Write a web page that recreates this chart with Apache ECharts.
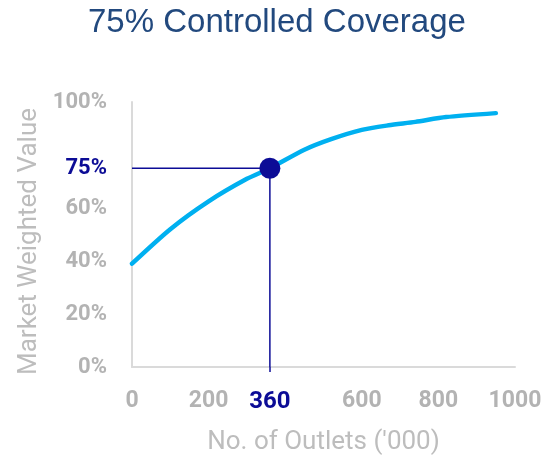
<!DOCTYPE html>
<html>
<head>
<meta charset="utf-8">
<script src="https://cdn.jsdelivr.net/npm/echarts@6/dist/echarts.min.js"></script>
<style>
  html, body { margin: 0; padding: 0; background: #fff; }
  #chart { width: 543px; height: 455px; }
</style>
</head>
<body>
<div id="chart"></div>
<script>
// Cumulative market weighted value (%) by number of outlets ('000)
const outlets  = [0, 100, 200, 300, 360, 450, 520, 600, 670, 740, 820, 950];
const coverage = [39, 52, 62.5, 71, 75, 82, 86, 89.5, 91.2, 92.5, 94.3, 95.8];

// Controlled coverage target
const targetOutlets = 360;
const targetCoverage = 75;

// Axis labels
const xTickValues = [0, 200, 360, 600, 800, 1000];
const yTickValues = [0, 20, 40, 60, 75, 100];

const NAVY = '#0C0C96';
const GREY = '#B3B3B3';
const NAME_GREY = '#BDBDBD';
const LABEL_FONT = 'Roboto, sans-serif';

const chart = echarts.init(document.getElementById('chart'), null, { renderer: 'canvas' });

chart.setOption({
  animation: false,
  backgroundColor: '#ffffff',
  title: {
    text: '75% Controlled Coverage',
    left: 83,
    top: 1,
    textStyle: {
      fontFamily: '"Liberation Sans", Arial, sans-serif',
      fontSize: 33,
      fontWeight: 'normal',
      color: '#22497E'
    }
  },
  graphic: [
    {
      // vertical axis title
      type: 'text',
      left: 16,
      top: 108,
      rotation: Math.PI / 2,
      style: {
        text: 'Market Weighted Value',
        fontFamily: LABEL_FONT,
        fontSize: 26,
        fill: NAME_GREY,
        textAlign: 'center',
        textVerticalAlign: 'middle'
      }
    }
  ],
  grid: { left: 132, right: 28, top: 102, bottom: 88, containLabel: false, outerBoundsMode: 'none' },
  xAxis: {
    type: 'value',
    min: 0,
    max: 1000,
    name: "No. of Outlets ('000)",
    nameLocation: 'middle',
    nameGap: 62,
    nameTextStyle: { fontFamily: LABEL_FONT, fontSize: 26, color: NAME_GREY },
    axisLine: { show: true, lineStyle: { color: '#DADADA', width: 2 } },
    axisTick: { show: true, customValues: [targetOutlets], length: 5, lineStyle: { color: NAVY, width: 1.5 } },
    splitLine: { show: false },
    axisLabel: {
      customValues: xTickValues,
      margin: 23,
      fontFamily: LABEL_FONT,
      fontSize: 23,
      fontWeight: 'bold',
      color: GREY,
      formatter: v => v === targetOutlets ? '{hl|' + v + '}' : String(v),
      rich: { hl: { color: NAVY, fontFamily: LABEL_FONT, fontSize: 24, fontWeight: 'bold' } }
    }
  },
  yAxis: {
    type: 'value',
    min: 0,
    max: 100,
    axisLine: { show: true, lineStyle: { color: '#DADADA', width: 2 } },
    axisTick: { show: false },
    splitLine: { show: false },
    axisLabel: {
      customValues: yTickValues,
      margin: 25,
      fontFamily: LABEL_FONT,
      fontSize: 22,
      fontWeight: 'bold',
      color: GREY,
      formatter: v => v === targetCoverage ? '{hl|' + v + '%}' : v + '%',
      rich: { hl: { color: NAVY, fontFamily: LABEL_FONT, fontSize: 22, fontWeight: 'bold' } }
    }
  },
  series: [
    {
      // guide lines from the axes to the target point
      type: 'line',
      data: [[0, targetCoverage], [targetOutlets, targetCoverage], [targetOutlets, 0]],
      symbol: 'none',
      lineStyle: { color: NAVY, width: 1.5 },
      z: 2,
      silent: true
    },
    {
      type: 'line',
      data: outlets.map((x, i) => [x, coverage[i]]),
      smooth: 0.25,
      symbol: 'none',
      lineStyle: { color: '#00B0F0', width: 4.5, cap: 'round' },
      z: 3
    },
    {
      type: 'scatter',
      data: [[targetOutlets, targetCoverage]],
      symbol: 'circle',
      symbolSize: 21,
      itemStyle: { color: NAVY, opacity: 1 },
      z: 4
    }
  ]
});
</script>
</body>
</html>
